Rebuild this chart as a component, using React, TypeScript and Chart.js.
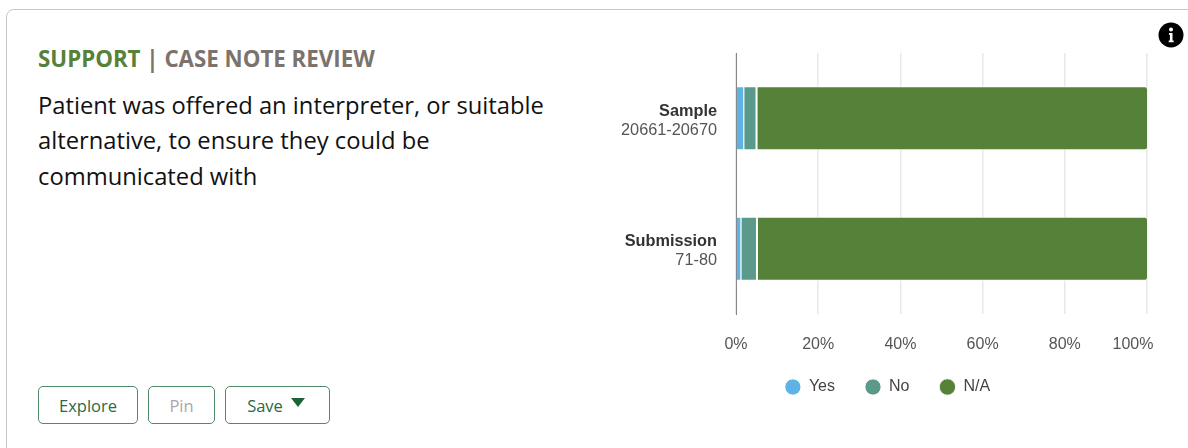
import React, { useEffect, useRef } from "react";
import { Chart, registerables } from "chart.js";

Chart.register(...registerables);

const categories = ["Sample", "Submission"];
const ranges = ["20661-20670", "71-80"];
const yesValues = [2, 1.3];
const noValues = [3, 3.8];
const naValues = [95, 94.9];
const xTicks = [0, 20, 40, 60, 80, 100];

const LABEL_FONT = '"Liberation Sans", Arial, sans-serif';
const BODY_FONT = '"Open Sans", sans-serif';

// Draws the two-line category labels, bold name above a regular range.
const categoryLabels = {
  id: "categoryLabels",
  afterDraw(chart: any) {
    const { ctx, scales } = chart;
    const y = scales.y;
    const right = chart.chartArea.left - 19;
    ctx.save();
    ctx.textAlign = "right";
    ctx.textBaseline = "middle";
    categories.forEach((name, i) => {
      const c = y.getPixelForTick(i);
      ctx.font = `bold 16.3px ${LABEL_FONT}`;
      ctx.fillStyle = "#333333";
      ctx.fillText(name, right, c - 7);
      ctx.font = `16.3px ${LABEL_FONT}`;
      ctx.fillStyle = "#555555";
      ctx.fillText(ranges[i], right, c + 12);
    });
    ctx.restore();
  },
};

// Pulls the last tick label back so it stays inside the plot's right edge.
const insetLastTick = {
  id: "insetLastTick",
  afterUpdate(chart: any) {
    const items = chart.scales.x.getLabelItems();
    const last = items[items.length - 1];
    if (last) last.options.translation[0] -= 14;
  },
};

export default function App() {
  const ref = useRef<HTMLCanvasElement>(null);

  useEffect(() => {
    const chart = new Chart(ref.current!, {
      type: "bar",
      data: {
        labels: categories,
        datasets: [
          { label: "Yes", data: yesValues, backgroundColor: "#5DB3E4", borderColor: "#ffffff", borderWidth: 1 },
          { label: "No", data: noValues, backgroundColor: "#5B9A8B", borderColor: "#ffffff", borderWidth: 1 },
          {
            label: "N/A",
            data: naValues,
            backgroundColor: "#558139",
            borderColor: "#ffffff",
            borderWidth: { left: 1, top: 1, bottom: 1, right: 0 },
            borderRadius: { topRight: 3, bottomRight: 3, topLeft: 0, bottomLeft: 0 },
            borderSkipped: false,
          },
        ],
      },
      options: {
        indexAxis: "y",
        animation: false,
        responsive: false,
        layout: { padding: { left: 13, right: 13, top: 10, bottom: 0 } },
        datasets: { bar: { barPercentage: 0.98, categoryPercentage: 0.5 } },
        scales: {
          x: {
            stacked: true,
            min: 0,
            max: 100,
            afterBuildTicks(scale: any) {
              scale.ticks = xTicks.map((value) => ({ value }));
            },
            afterFit(scale: any) {
              scale.height = 35;
              scale.paddingLeft = 0;
              scale.paddingRight = 0;
            },
            border: { display: false },
            grid: { color: "#e8e8e8", lineWidth: 1.5, drawTicks: false },
            ticks: {
              padding: 21,
              maxRotation: 0,
              autoSkip: false,
              color: "#555555",
              font: { family: LABEL_FONT, size: 16 },
              callback: (v: any) => `${v}%`,
            },
          },
          y: {
            stacked: true,
            afterFit(scale: any) {
              scale.width = 108;
              scale.paddingTop = 0;
              scale.paddingBottom = 0;
            },
            border: { display: true, color: "#888888", width: 1 },
            grid: { display: false },
            ticks: { display: false },
          },
        },
        plugins: {
          tooltip: { enabled: false },
          legend: {
            position: "bottom",
            labels: {
              usePointStyle: true,
              pointStyle: "circle",
              boxWidth: 16,
              boxHeight: 11.5,
              padding: 30,
              color: "#444444",
              font: { family: LABEL_FONT, size: 16 },
            },
          },
        },
      },
      plugins: [categoryLabels, insetLastTick],
    } as any);
    return () => chart.destroy();
  }, []);

  const button: React.CSSProperties = {
    position: "absolute",
    top: 386,
    height: 38,
    boxSizing: "border-box",
    border: "1px solid #4f8a68",
    borderRadius: 5,
    background: "#fff",
    color: "#256b45",
    fontFamily: BODY_FONT,
    fontSize: 16.5,
    display: "flex",
    alignItems: "center",
    justifyContent: "center",
    gap: 8,
  };

  return (
    <div style={{ position: "fixed", left: 0, top: 0, width: 1188, height: 448, overflow: "hidden", background: "#fff" }}>
      <div
        style={{
          position: "absolute",
          left: 6,
          top: 9,
          width: 1400,
          height: 700,
          boxSizing: "border-box",
          border: "1px solid #c8c4c4",
          borderRadius: 8,
        }}
      />
      <div
        style={{
          position: "absolute",
          left: 38,
          top: 42.5,
          fontFamily: BODY_FONT,
          fontWeight: 700,
          fontSize: 22.3,
          lineHeight: "32px",
          color: "#7b736c",
          whiteSpace: "nowrap",
        }}
      >
        <span style={{ color: "#558139" }}>SUPPORT</span> | CASE NOTE REVIEW
      </div>
      <div
        style={{
          position: "absolute",
          left: 38,
          top: 87.5,
          width: 540,
          fontFamily: BODY_FONT,
          fontSize: 23.76,
          lineHeight: "35.5px",
          color: "#111",
        }}
      >
        Patient was offered an interpreter, or suitable
        <br />
        alternative, to ensure they could be
        <br />
        communicated with
      </div>

      <svg style={{ position: "absolute", left: 1158, top: 22 }} width={26} height={26} viewBox="0 0 26 26">
        <circle cx={13} cy={13} r={12.5} fill="#000" />
        <circle cx={13} cy={7.5} r={2} fill="#fff" />
        <path d="M11 11h3.5v7.5h1.2v1.8h-5v-1.8h1.2v-5.7h-1z" fill="#fff" />
      </svg>

      <div style={{ ...button, left: 38, width: 100 }}>Explore</div>
      <div style={{ ...button, left: 148, width: 67, color: "#aaa8a8" }}>Pin</div>
      <div style={{ ...button, left: 225, width: 105, paddingRight: 3 }}>
        Save
        <svg width={14} height={9} viewBox="0 0 14 9" style={{ marginTop: -6 }}>
          <path d="M0 0h14L7 9z" fill="#1d6338" />
        </svg>
      </div>

      <canvas ref={ref} width={545} height={362} style={{ position: "absolute", left: 615, top: 43 }} />
    </div>
  );
}
